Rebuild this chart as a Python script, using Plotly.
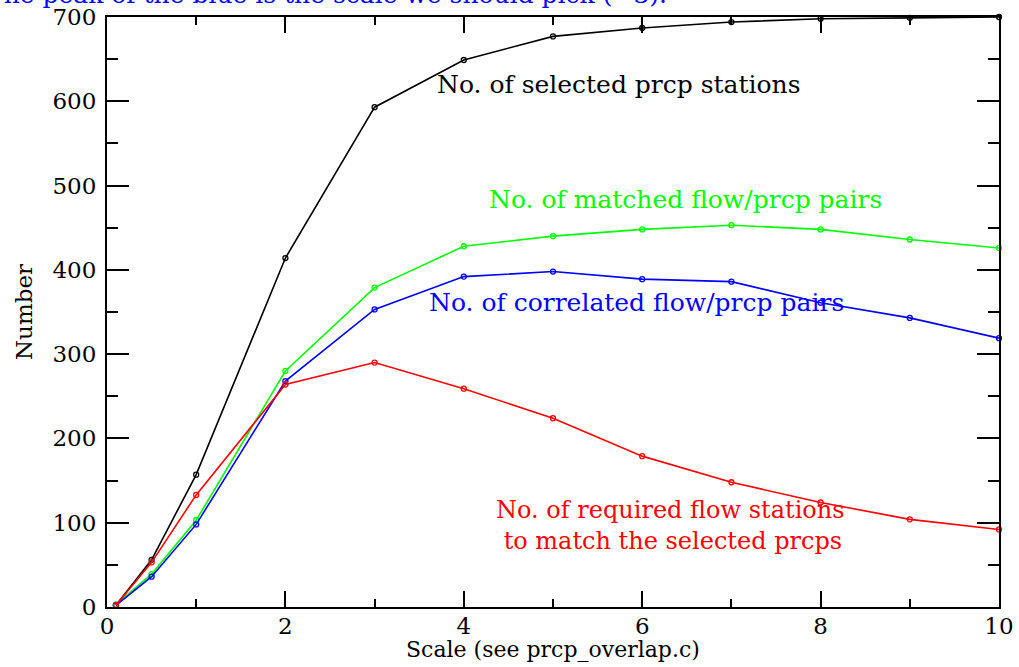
import plotly.graph_objects as go

scale = [0.1, 0.5, 1, 2, 3, 4, 5, 6, 7, 8, 9, 10]
selected_prcp = [2, 56, 157, 414, 593, 649, 677, 687, 694, 698, 699, 700]
matched_pairs = [3, 39, 103, 280, 379, 428, 440, 448, 453, 448, 436, 426]
correlated_pairs = [2, 36, 98, 268, 353, 392, 398, 389, 386, 361, 343, 319]
required_flow = [2, 53, 133, 264, 290, 259, 224, 179, 148, 124, 104, 92]

FONT = "DejaVu Serif"

series = [
    (selected_prcp, "black"),
    (matched_pairs, "#00ff00"),
    (correlated_pairs, "#0000ff"),
    (required_flow, "#ff0000"),
]

fig = go.Figure()
for vals, col in series:
    fig.add_trace(go.Scatter(
        x=scale, y=vals, mode="lines+markers",
        line=dict(color=col, width=1.6),
        marker=dict(symbol="circle-open", size=5, color=col, line=dict(width=1.3, color=col)),
        showlegend=False, cliponaxis=False,
    ))

labels = [
    ("No. of selected prcp stations", 5.74, 620, "black", "center"),
    ("No. of matched flow/prcp pairs", 6.49, 483, "#00ff00", "center"),
    ("No. of correlated flow/prcp pairs", 5.94, 361, "#0000ff", "center"),
]
for txt, x, y, col, anc in labels:
    fig.add_annotation(x=x, y=y, xref="x", yref="y", text=txt, showarrow=False,
                       font=dict(family=FONT, size=25, color=col),
                       xanchor=anc, yanchor="middle")

fig.add_annotation(x=4.34, y=97, xref="x", yref="y",
                   text="No. of required flow stations<br>&nbsp;to match the selected prcps",
                   showarrow=False, align="left",
                   font=dict(family=FONT, size=24, color="#ff0000"),
                   xanchor="left", yanchor="middle")

fig.add_annotation(x=(669 - 107) / 892, y=1 + 22 / 590, xref="paper", yref="paper",
                   text="The peak of the blue is the scale we should pick (~3).",
                   showarrow=False, xanchor="right", yanchor="middle",
                   font=dict(family=FONT, size=25, color="#0000ff"))

# axis titles
fig.add_annotation(x=0.5, y=-(649 - 607) / 590, xref="paper", yref="paper",
                   text="Scale (see prcp_overlap.c)", showarrow=False,
                   xanchor="center", yanchor="middle",
                   font=dict(family=FONT, size=22, color="black"))
fig.add_annotation(x=(24 - 107) / 892, y=0.5, xref="paper", yref="paper",
                   text="Number", showarrow=False, textangle=-90,
                   xanchor="center", yanchor="middle",
                   font=dict(family=FONT, size=23, color="black"))

axis_common = dict(
    showgrid=False, zeroline=False, showline=True, linecolor="black", linewidth=2,
    mirror="ticks", ticks="inside", tickcolor="black", tickwidth=1.5,
    tickfont=dict(family=FONT, size=23, color="black"), automargin=False,
)

fig.update_xaxes(range=[0, 10], dtick=2, tick0=0, ticklen=16, ticklabelstandoff=-3,
                 minor=dict(dtick=1, ticks="inside", ticklen=8, tickcolor="black", tickwidth=1.5),
                 **axis_common)
fig.update_yaxes(range=[0, 700], dtick=100, tick0=0, ticklen=22, ticklabelstandoff=4,
                 minor=dict(dtick=50, ticks="inside", ticklen=11, tickcolor="black", tickwidth=1.5),
                 **axis_common)

fig.update_layout(
    width=1019, height=667,
    margin=dict(l=107, r=20, t=17, b=60, autoexpand=False),
    plot_bgcolor="white", paper_bgcolor="white",
)

fig.write_html("out.html")
